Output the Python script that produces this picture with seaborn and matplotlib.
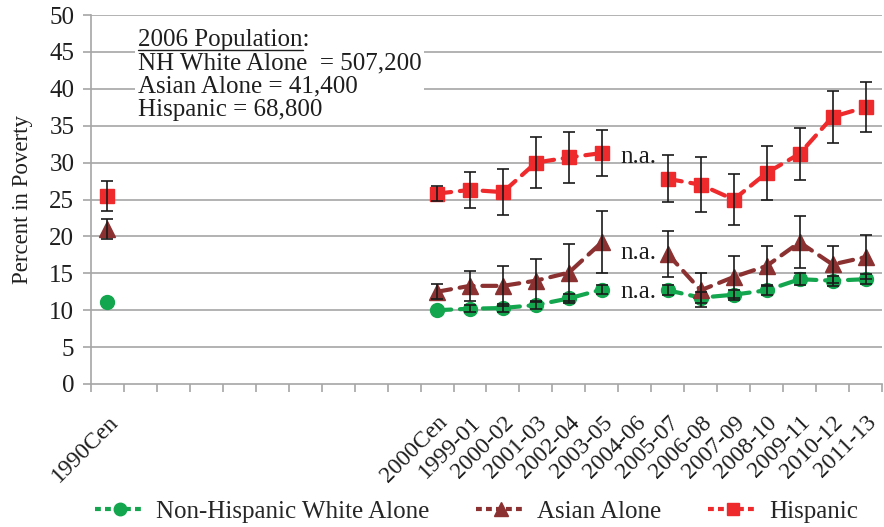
import numpy as np
import pandas as pd
import matplotlib
matplotlib.use("Agg")
import matplotlib.pyplot as plt
from matplotlib.lines import Line2D
import seaborn as sns

# Period labels; the blank slots keep the 1990 census apart from the later series
periods = (["1990Cen"] + [""] * 9 +
           ["2000Cen", "1999-01", "2000-02", "2001-03", "2002-04", "2003-05",
            "2004-06", "2005-07", "2006-08", "2007-09", "2008-10", "2009-11",
            "2010-12", "2011-13"])

nan = np.nan
gap = [nan] * 9

white = [11.1] + gap + [10.0, 10.2, 10.3, 10.7, 11.6, 12.8, nan, 12.7, 11.7, 12.1, 12.7, 14.2, 14.0, 14.2]
white_err = [0.0] + gap + [0.0, 0.5, 0.5, 0.5, 0.6, 0.6, nan, 0.7, 0.7, 0.7, 0.7, 0.8, 0.7, 0.7]

asian = [21.0] + gap + [12.5, 13.3, 13.3, 14.0, 15.1, 19.2, nan, 17.6, 12.7, 14.5, 16.0, 19.2, 16.2, 17.2]
asian_err = [1.4] + gap + [1.0, 2.0, 2.7, 2.9, 3.9, 4.2, nan, 3.1, 2.3, 2.8, 2.7, 3.5, 2.5, 3.0]

hisp = [25.5] + gap + [25.8, 26.3, 26.0, 30.0, 30.7, 31.3, nan, 27.8, 27.0, 25.0, 28.6, 31.2, 36.2, 37.5]
hisp_err = [2.0] + gap + [1.0, 2.4, 3.1, 3.5, 3.5, 3.1, nan, 3.2, 3.7, 3.5, 3.7, 3.5, 3.5, 3.4]

series_names = ["Non-Hispanic White Alone", "Asian Alone", "Hispanic"]
series_vals = [white, asian, hisp]
series_errs = [white_err, asian_err, hisp_err]
colors = ["#13A64E", "#8B3131", "#EE2A2D"]
markers = ["o", "^", "s"]
marker_sizes = [10, 11, 10]

na_y = [12.4, 17.8, 30.8]

# Long-form table; each unbroken run of values gets its own segment id
rows = []
for name, vals in zip(series_names, series_vals):
    seg = 0
    prev_nan = True
    for i, v in enumerate(vals):
        if np.isnan(v):
            prev_nan = True
            continue
        if prev_nan:
            seg += 1
        prev_nan = False
        rows.append({"x": i, "value": v, "series": name, "segment": f"{name}-{seg}"})
df = pd.DataFrame(rows)

sns.set_theme(style="white")
plt.rcParams["font.family"] = ["Liberation Serif", "DejaVu Serif"]

FS = 18
text_c = "#1E1E1E"

fig = plt.figure(figsize=(8.84, 5.27), dpi=100)
ax = fig.add_axes([91 / 884, 1 - 384 / 527, 791 / 884, 369 / 527])

grid_c = "#A6A6A6"
for yv in range(5, 55, 5):
    ax.axhline(yv, color=grid_c, lw=1.2, zorder=0)

for name, col, mk, ms in zip(series_names, colors, markers, marker_sizes):
    sub = df[df["series"] == name]
    n_before = len(ax.get_lines())
    sns.lineplot(data=sub, x="x", y="value", units="segment", estimator=None,
                 color=col, lw=3, ax=ax, legend=False, zorder=3)
    for line in ax.get_lines()[n_before:]:
        line.set_dashes((3.4, 2.1))
        line.set_dash_capstyle("round")
    # markers drawn on top of the dashed lines
    ax.plot(sub["x"], sub["value"], ls="none", marker=mk, ms=ms, color=col,
            mec=col, zorder=4)

xs = np.arange(len(periods))
for vals, errs in zip(series_vals, series_errs):
    v = np.array(vals, dtype=float)
    e = np.array(errs, dtype=float)
    m = ~np.isnan(v) & (np.nan_to_num(e) > 0)
    ax.errorbar(xs[m], v[m], yerr=e[m], fmt="none", ecolor="#1A1A1A",
                elinewidth=1.2, capsize=4, capthick=1.2, zorder=5)

na_x = periods.index("2004-06")
for yv in na_y:
    ax.text(na_x + 0.12, yv, "n.a.", ha="center", va="center", fontsize=FS,
            color=text_c, zorder=6)

ax.set_xlim(-0.5, len(periods) - 0.5)
ax.set_ylim(0, 50)
ax.set_yticks(range(0, 55, 5))
ax.set_xticks(xs)
ax.set_xticklabels(periods, rotation=45, ha="right", va="top",
                   rotation_mode="anchor", fontsize=17, color=text_c)
ax.set_xticks(np.arange(-0.5, len(periods), 1), minor=True)
ax.tick_params(axis="x", which="major", length=0, pad=20)
ax.tick_params(axis="x", which="minor", length=6, width=1.2, color=grid_c,
               direction="out", bottom=True)
ax.tick_params(axis="y", which="major", length=6, width=1.2, color=grid_c,
               direction="out", left=True, labelsize=FS, labelcolor=text_c, pad=6)
ax.set_xlabel("")
ax.set_ylabel("Percent in Poverty", fontsize=16.5, color=text_c, labelpad=12)

for side in ("top", "right"):
    ax.spines[side].set_visible(False)
for side in ("left", "bottom"):
    ax.spines[side].set_color(grid_c)
    ax.spines[side].set_linewidth(1.2)

# population note
note_x = (138 - 91) / 791
note_y = 0.962
note = ax.text(note_x, note_y,
               "2006 Population:\nNH White Alone  = 507,200\nAsian Alone = 41,400\nHispanic = 68,800",
               transform=ax.transAxes, ha="left", va="top", fontsize=FS,
               linespacing=1.08, color=text_c, zorder=6,
               bbox=dict(facecolor="white", edgecolor="none", pad=2))
fig.canvas.draw()
renderer = fig.canvas.get_renderer()
probe = ax.text(note_x, note_y, "2006 Population", transform=ax.transAxes,
                ha="left", va="top", fontsize=FS)
pb = probe.get_window_extent(renderer)
probe.remove()
ul_y = pb.y0 + 1
fig.add_artist(Line2D([pb.x0 / fig.bbox.width, pb.x1 / fig.bbox.width],
                      [ul_y / fig.bbox.height, ul_y / fig.bbox.height],
                      color=text_c, lw=1.0, zorder=7))

handles = [Line2D([0], [0], color=c, lw=3, dashes=(1.4, 1.0), marker=m, ms=s * 0.9,
                  mec=c)
           for c, m, s in zip(colors, markers, marker_sizes)]
fig.legend(handles, series_names, loc="lower center", bbox_to_anchor=(0.539, -0.035),
           ncol=3, frameon=False, fontsize=FS, handlelength=2.0, columnspacing=1.85,
           handletextpad=0.45)

fig.savefig("out.png", dpi=100)
